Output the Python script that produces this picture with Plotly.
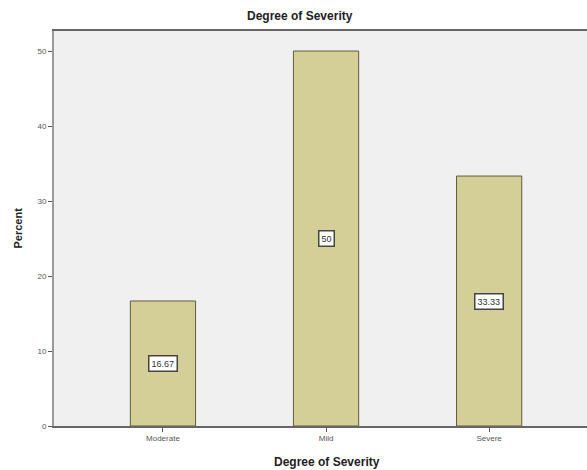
import plotly.graph_objects as go

categories = ["Moderate", "Mild", "Severe"]
percent = [16.67, 50, 33.33]
y_ticks = [0, 10, 20, 30, 40, 50]

BAR_FILL = "#d4cf96"
BAR_LINE = "#5e5c3e"
PLOT_BG = "#f0f0f0"

fig = go.Figure()
fig.add_trace(go.Bar(
    x=list(range(len(categories))),
    y=percent,
    width=0.4,
    marker=dict(color=BAR_FILL, line=dict(color=BAR_LINE, width=1)),
    hoverinfo="skip",
))

# value labels boxed at half the bar height
for i, v in enumerate(percent):
    fig.add_annotation(
        x=i, y=v / 2, xref="x", yref="y",
        text=f"{v:g}", showarrow=False,
        font=dict(family="Arial, Liberation Sans, sans-serif", size=9, color="#333"),
        bgcolor="white", bordercolor="#444", borderwidth=1.5, borderpad=2,
    )

fig.update_layout(
    width=587, height=470,
    margin=dict(l=54, r=0, t=31, b=44),
    paper_bgcolor="white",
    plot_bgcolor=PLOT_BG,
    showlegend=False,
    font=dict(family="Arial, Liberation Sans, sans-serif", color="#333"),
)

fig.update_xaxes(
    range=[-0.668, 2.6],
    tickvals=list(range(len(categories))),
    ticktext=categories,
    tickfont=dict(size=8, color="#555"),
    ticks="outside", ticklen=4, tickcolor="#555",
    showline=True, linecolor="#666", linewidth=1.5,
    mirror=True,
    showgrid=False, zeroline=False,
)
fig.update_yaxes(
    range=[0, 52.67],
    tickvals=y_ticks,
    tickfont=dict(size=8, color="#555"),
    ticks="outside", ticklen=4, tickcolor="#555",
    showline=True, linecolor="#999", linewidth=2,
    showgrid=False, zeroline=False,
)

# chart title
fig.add_annotation(
    text="<b>Degree of Severity</b>", xref="paper", yref="paper",
    x=(300 - 54) / 533, y=1, yshift=15, showarrow=False,
    xanchor="center", yanchor="middle",
    font=dict(size=12, color="#222"),
)
# axis titles
fig.add_annotation(
    text="<b>Degree of Severity</b>", xref="paper", yref="paper",
    x=(327 - 54) / 533, y=0, yshift=-36, showarrow=False,
    xanchor="center", yanchor="middle",
    font=dict(size=12, color="#222"),
)
fig.add_annotation(
    text="<b>Percent</b>", xref="paper", yref="paper",
    x=0, xshift=-37, y=0.5, showarrow=False, textangle=-90,
    xanchor="center", yanchor="middle",
    font=dict(size=11, color="#222"),
)

fig.write_html("out.html")
